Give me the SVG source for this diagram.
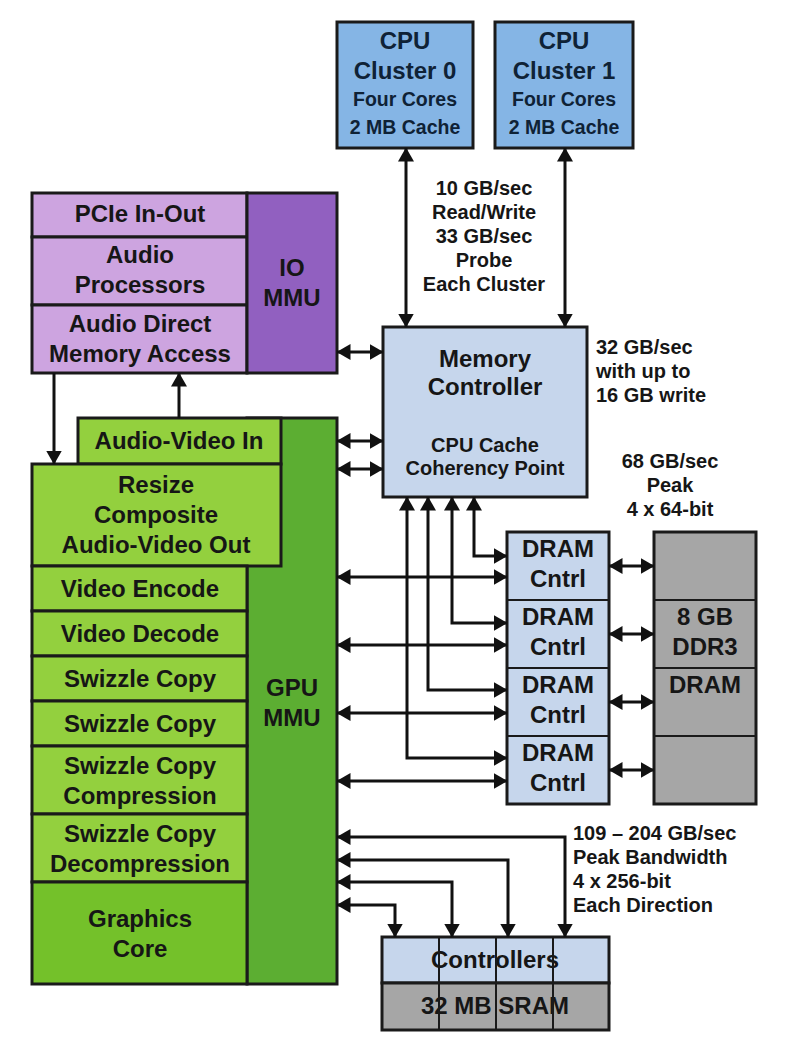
<svg xmlns="http://www.w3.org/2000/svg" width="800" height="1056" viewBox="0 0 800 1056">
<style>
.t{font-family:"Liberation Sans",Arial,sans-serif;font-weight:bold;fill:#161616;text-anchor:middle}
.s24{font-size:24px}.s20{font-size:20px}.s19{font-size:19.5px}
.l{text-anchor:start}
.b{stroke:#1a1a1a;stroke-width:3}
.d{stroke:#1a1a1a;stroke-width:2}
.c{stroke:#111;stroke-width:3;fill:none}
.cpu{fill:#85b5e5}.lb{fill:#c6d6ec}.gr{fill:#a6a6a6}
.pl{fill:#cda4e0}.pd{fill:#9160c0}
.gl{fill:#93d03e}.gm{fill:#5cae32}.gc{fill:#74c12a}
.nv{fill:#0f2236}
</style>
<defs>
<marker id="ah" viewBox="0 0 14 16" markerWidth="14" markerHeight="16" refX="13.5" refY="8" orient="auto-start-reverse" markerUnits="userSpaceOnUse"><path d="M0,0 L14,8 L0,16 z" fill="#111"/></marker>
</defs>
<rect width="800" height="1056" fill="#fff"/>

<g id="cpu0">
<rect class="b cpu" x="337" y="22" width="136" height="126"/>
<text class="t s24 nv" x="405" y="49">CPU</text>
<text class="t s24 nv" x="405" y="79">Cluster 0</text>
<text class="t s19 nv" x="405" y="106">Four Cores</text>
<text class="t s19 nv" x="405" y="134">2 MB Cache</text>
</g>
<g id="cpu1">
<rect class="b cpu" x="495" y="22" width="138" height="126"/>
<text class="t s24 nv" x="564" y="49">CPU</text>
<text class="t s24 nv" x="564" y="79">Cluster 1</text>
<text class="t s19 nv" x="564" y="106">Four Cores</text>
<text class="t s19 nv" x="564" y="134">2 MB Cache</text>
</g>

<g id="io">
<rect class="b pl" x="32" y="193" width="215" height="44"/>
<rect class="b pl" x="32" y="237" width="215" height="68"/>
<rect class="b pl" x="32" y="305" width="215" height="68"/>
<rect class="b pd" x="247" y="193" width="90" height="180"/>
<text class="t s24" x="140" y="222">PCIe In-Out</text>
<text class="t s24" x="140" y="263">Audio</text>
<text class="t s24" x="140" y="293">Processors</text>
<text class="t s24" x="140" y="332">Audio Direct</text>
<text class="t s24" x="140" y="362">Memory Access</text>
<text class="t s24" x="292" y="276">IO</text>
<text class="t s24" x="292" y="306">MMU</text>
</g>

<g id="memctrl">
<rect class="b lb" x="383" y="327" width="204" height="170"/>
<text class="t s24" x="485" y="367">Memory</text>
<text class="t s24" x="485" y="395">Controller</text>
<text class="t s20" x="485" y="452">CPU Cache</text>
<text class="t s20" x="485" y="475">Coherency Point</text>
</g>

<g id="gpu">
<rect class="b gm" x="247" y="418" width="90" height="566"/>
<text class="t s24" x="292" y="696">GPU</text>
<text class="t s24" x="292" y="726">MMU</text>
<rect class="b gl" x="78" y="418" width="203" height="46"/>
<text class="t s24" x="179" y="449">Audio-Video In</text>
<rect class="b gl" x="32" y="464" width="249" height="102"/>
<text class="t s24" x="156" y="493">Resize</text>
<text class="t s24" x="156" y="523">Composite</text>
<text class="t s24" x="156" y="553">Audio-Video Out</text>
<rect class="b gl" x="32" y="566" width="215" height="45"/>
<text class="t s24" x="140" y="597">Video Encode</text>
<rect class="b gl" x="32" y="611" width="215" height="45"/>
<text class="t s24" x="140" y="642">Video Decode</text>
<rect class="b gl" x="32" y="656" width="215" height="45"/>
<text class="t s24" x="140" y="687">Swizzle Copy</text>
<rect class="b gl" x="32" y="701" width="215" height="45"/>
<text class="t s24" x="140" y="732">Swizzle Copy</text>
<rect class="b gl" x="32" y="746" width="215" height="68"/>
<text class="t s24" x="140" y="774">Swizzle Copy</text>
<text class="t s24" x="140" y="804">Compression</text>
<rect class="b gl" x="32" y="814" width="215" height="68"/>
<text class="t s24" x="140" y="842">Swizzle Copy</text>
<text class="t s24" x="140" y="872">Decompression</text>
<rect class="b gc" x="32" y="882" width="215" height="102"/>
<text class="t s24" x="140" y="927">Graphics</text>
<text class="t s24" x="140" y="957">Core</text>
</g>

<g id="dramctrl">
<rect class="b lb" x="507" y="532" width="102" height="272"/>
<line class="d" x1="507" y1="600" x2="609" y2="600"/>
<line class="d" x1="507" y1="668" x2="609" y2="668"/>
<line class="d" x1="507" y1="736" x2="609" y2="736"/>
<text class="t s24" x="558" y="557">DRAM</text>
<text class="t s24" x="558" y="587">Cntrl</text>
<text class="t s24" x="558" y="625">DRAM</text>
<text class="t s24" x="558" y="655">Cntrl</text>
<text class="t s24" x="558" y="693">DRAM</text>
<text class="t s24" x="558" y="723">Cntrl</text>
<text class="t s24" x="558" y="761">DRAM</text>
<text class="t s24" x="558" y="791">Cntrl</text>
</g>

<g id="ddr3">
<rect class="b gr" x="654" y="532" width="102" height="272"/>
<line class="d" x1="654" y1="600" x2="756" y2="600"/>
<line class="d" x1="654" y1="668" x2="756" y2="668"/>
<line class="d" x1="654" y1="736" x2="756" y2="736"/>
<text class="t s24" x="705" y="625">8 GB</text>
<text class="t s24" x="705" y="655">DDR3</text>
<text class="t s24" x="705" y="693">DRAM</text>
</g>

<g id="sram">
<rect class="b lb" x="382" y="937" width="227" height="46"/>
<rect class="b gr" x="382" y="983" width="227" height="47"/>
<text class="t s24" x="495" y="968">Controllers</text>
<text class="t s24" x="495" y="1014">32 MB SRAM</text>
<line class="d" x1="439" y1="937" x2="439" y2="1030" stroke-width="1.5"/>
<line class="d" x1="496" y1="937" x2="496" y2="1030" stroke-width="1.5"/>
<line class="d" x1="553" y1="937" x2="553" y2="1030" stroke-width="1.5"/>
</g>

<g id="labels">
<text class="t s20" x="484" y="195">10 GB/sec</text>
<text class="t s20" x="484" y="219">Read/Write</text>
<text class="t s20" x="484" y="243">33 GB/sec</text>
<text class="t s20" x="484" y="267">Probe</text>
<text class="t s20" x="484" y="291">Each Cluster</text>
<text class="t s20 l" x="596" y="354">32 GB/sec</text>
<text class="t s20 l" x="596" y="378">with up to</text>
<text class="t s20 l" x="596" y="402">16 GB write</text>
<text class="t s20" x="670" y="468">68 GB/sec</text>
<text class="t s20" x="670" y="492">Peak</text>
<text class="t s20" x="670" y="516">4 x 64-bit</text>
<text class="t s20 l" x="573" y="840">109 – 204 GB/sec</text>
<text class="t s20 l" x="573" y="864">Peak Bandwidth</text>
<text class="t s20 l" x="573" y="888">4 x 256-bit</text>
<text class="t s20 l" x="573" y="912">Each Direction</text>
</g>

<g id="connectors" marker-end="url(#ah)">
<path class="c" d="M406,148 V327" marker-start="url(#ah)"/>
<path class="c" d="M565,148 V327" marker-start="url(#ah)"/>
<path class="c" d="M337,352 H383" marker-start="url(#ah)"/>
<path class="c" d="M337,441 H383" marker-start="url(#ah)"/>
<path class="c" d="M337,469 H383" marker-start="url(#ah)"/>
<path class="c" d="M54,373 V464"/>
<path class="c" d="M179,418 V373"/>
<path class="c" d="M474,497 V556 H507" marker-start="url(#ah)"/>
<path class="c" d="M452,497 V623 H507" marker-start="url(#ah)"/>
<path class="c" d="M428,497 V690 H507" marker-start="url(#ah)"/>
<path class="c" d="M407,497 V758 H507" marker-start="url(#ah)"/>
<path class="c" d="M337,577 H507" marker-start="url(#ah)"/>
<path class="c" d="M337,645 H507" marker-start="url(#ah)"/>
<path class="c" d="M337,713 H507" marker-start="url(#ah)"/>
<path class="c" d="M337,781 H507" marker-start="url(#ah)"/>
<path class="c" d="M609,566 H654" marker-start="url(#ah)"/>
<path class="c" d="M609,634 H654" marker-start="url(#ah)"/>
<path class="c" d="M609,702 H654" marker-start="url(#ah)"/>
<path class="c" d="M609,770 H654" marker-start="url(#ah)"/>
<path class="c" d="M337,837 H565 V937" marker-start="url(#ah)"/>
<path class="c" d="M337,860 H508 V937" marker-start="url(#ah)"/>
<path class="c" d="M337,882 H452 V937" marker-start="url(#ah)"/>
<path class="c" d="M337,905 H395 V937" marker-start="url(#ah)"/>
</g>
</svg>
